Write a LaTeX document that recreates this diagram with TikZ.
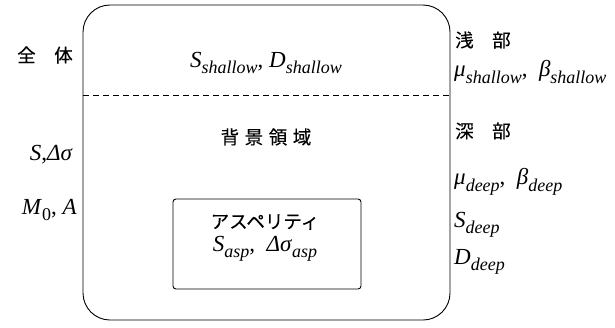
\documentclass[tikz,border=0pt]{standalone}
\usepackage{fontspec}
\setmainfont{Liberation Serif}
\newfontfamily\jp[FakeBold=0.2]{Noto Sans CJK JP}
\newcommand{\vi}[1]{\textit{#1}}
\newcommand{\sbs}[2]{\textit{#1}\raisebox{-0.28em}{\fontsize{18}{18}\selectfont\textit{#2}}}
\begin{document}
\begin{tikzpicture}[x=1pt,y=-1pt,
  frame/.style={draw, line width=0.9pt, rounded corners=27pt},
  inbox/.style={draw, line width=0.9pt, rounded corners=3pt},
  jtext/.style={font=\jp\fontsize{18.5}{20}\selectfont, inner sep=0pt},
  mtext/.style={font=\fontsize{23}{26}\selectfont, inner sep=0pt}]
\useasboundingbox (0,0) rectangle (615,327);
\draw[frame] (83,5) rectangle (450,320);
\coordinate (dl) at (83,95);
\coordinate (dr) at (450,95);
\draw[dashed, line width=0.8pt, dash pattern=on 6pt off 4pt] (dl) -- (dr);
\node[inbox, minimum width=188pt, minimum height=90pt] (asp) at (267,244) {};
% left
\node[jtext] (zentai) at (45,55) {全\hspace{1em}体};
\node[mtext, anchor=east] (sds) at (73,155) {\vi{S},\vi{Δσ}};
\node[mtext, anchor=east] (ma) at (77,210) {\textit{M}\raisebox{-0.28em}{\fontsize{18}{18}\selectfont 0}, \vi{A}};
% center
\node[mtext] (ssh) at (266,63) {\sbs{S}{shallow}, \sbs{D}{shallow}};
\node[jtext] (haikei) at (266,137) {背\hspace{0.3em}景\hspace{0.3em}領\hspace{0.3em}域};
\node[jtext] (asptxt) at (265,222) {アスペリティ};
\node[mtext] (aspp) at (265,249) {\sbs{S}{asp}, \ \sbs{Δσ}{asp}};
% right
\node[jtext, anchor=west] (senbu) at (455,40) {浅\hspace{1em}部};
\node[mtext, anchor=west] (mush) at (454,72) {\sbs{μ}{shallow}, \ \sbs{β}{shallow}};
\node[jtext, anchor=west] (shinbu) at (455,131) {深\hspace{1em}部};
\node[mtext, anchor=west] (mude) at (454,182) {\sbs{μ}{deep}, \ \sbs{β}{deep}};
\node[mtext, anchor=west] (sde) at (454,225) {\sbs{S}{deep}};
\node[mtext, anchor=west] (dde) at (454,262) {\sbs{D}{deep}};
\end{tikzpicture}
\end{document}
